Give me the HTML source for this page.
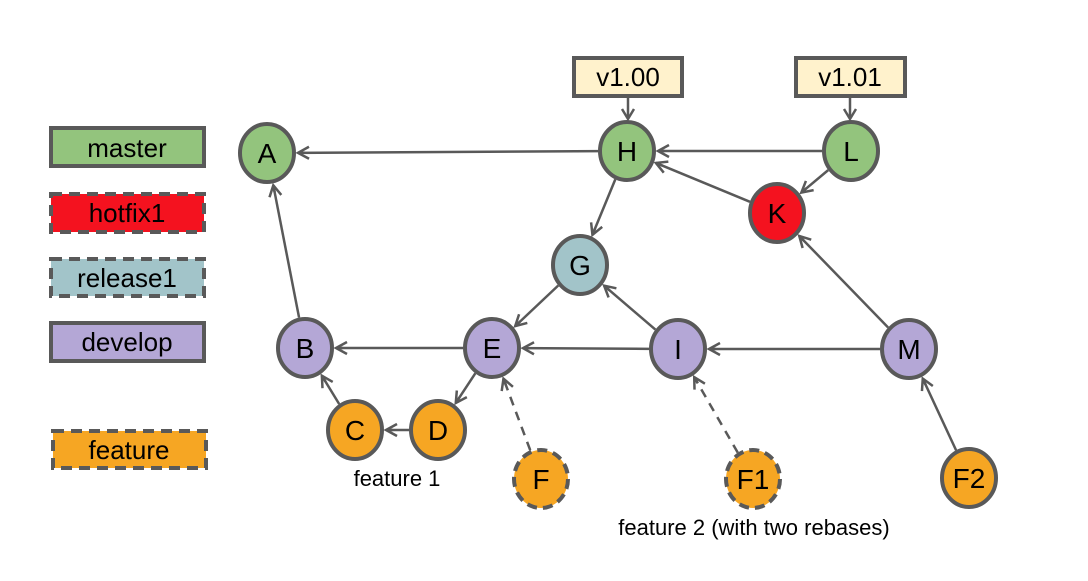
<!DOCTYPE html>
<html><head><meta charset="utf-8"><style>
html,body{margin:0;padding:0;background:#fff;width:1088px;height:581px;overflow:hidden}
text{font-family:"Liberation Sans",Arial,sans-serif;fill:#000}
</style></head><body>
<svg id="s" width="1088" height="581" viewBox="0 0 1088 581" xmlns="http://www.w3.org/2000/svg">
<g id="edges" stroke="#595959" stroke-width="2.5" fill="none"></g>
<g stroke="#595959" stroke-width="4">
<rect x="51" y="128" width="153" height="38" fill="#93c47d"/>
<rect x="51" y="194" width="153" height="38" fill="#f4121f" stroke-dasharray="11,7"/>
<rect x="51" y="259" width="153" height="37" fill="#a2c4c9" stroke-dasharray="11,7"/>
<rect x="51" y="323" width="153" height="38" fill="#b4a7d6"/>
<rect x="53" y="431" width="153" height="37" fill="#f6a623" stroke-dasharray="11,7"/>
<rect x="574" y="58" width="108" height="38" fill="#fff2cc"/>
<rect x="796" y="58" width="109" height="38" fill="#fff2cc"/>
</g>
<g font-size="26" text-anchor="middle">
<text x="127" y="157">master</text>
<text x="127" y="222">hotfix1</text>
<text x="127" y="287">release1</text>
<text x="127" y="351">develop</text>
<text x="129" y="459">feature</text>
<text x="628" y="86">v1.00</text>
<text x="850" y="86">v1.01</text>
</g>
<g id="nodes" stroke="#595959" stroke-width="4"></g>
<g font-size="22" text-anchor="middle">
<text x="397" y="486">feature 1</text>
<text x="754" y="535">feature 2 (with two rebases)</text>
</g>
</svg>
<script>
var N={A:[267,153,'#93c47d'],H:[627,151,'#93c47d'],L:[851,151,'#93c47d'],K:[777,213,'#f4121f'],
G:[580,265,'#a2c4c9'],B:[305,348,'#b4a7d6'],E:[492,348,'#b4a7d6'],I:[678,349,'#b4a7d6'],M:[909,349,'#b4a7d6'],
C:[355,430,'#f6a623'],D:[438,430,'#f6a623'],F:[541,479,'#f6a623',1],F1:[753,479,'#f6a623',1],F2:[969,478,'#f6a623']};
var ns="http://www.w3.org/2000/svg";
function el(t,a,p){var e=document.createElementNS(ns,t);for(var k in a)e.setAttribute(k,a[k]);p.appendChild(e);return e;}
var eg=document.getElementById('edges'),ng=document.getElementById('nodes'),s=document.getElementById('s');
var rx=27,ry=29;
function off(dx,dy){var a=Math.atan2(dy,dx);var c=Math.cos(a),si=Math.sin(a);return 1/Math.sqrt(c*c/(rx*rx)+si*si/(ry*ry));}
function edge(p,q,dash){var dx=q[0]-p[0],dy=q[1]-p[1],L=Math.sqrt(dx*dx+dy*dy),ux=dx/L,uy=dy/L;
var r=off(dx,dy)+2;var x1=p[0]+ux*r,y1=p[1]+uy*r,x2=q[0]-ux*(r+2),y2=q[1]-uy*(r+2);
var a={x1:x1,y1:y1,x2:x2,y2:y2};if(dash)a['stroke-dasharray']='9,7';el('line',a,eg);
var h=11,w=6,bx=x2-ux*h,by=y2-uy*h;
el('polyline',{points:(bx-uy*w)+','+(by+ux*w)+' '+x2+','+y2+' '+(bx+uy*w)+','+(by-ux*w)},eg);
el('line',{x1:x2-ux*7,y1:y2-uy*7,x2:x2,y2:y2},eg);}
var E=[['H','A'],['B','A'],['L','H'],['K','H'],['L','K'],['M','K'],['H','G'],['G','E'],['I','G'],['E','B'],['I','E'],['M','I'],['C','B'],['D','C'],['E','D'],['F','E',1],['F1','I',1],['F2','M']];
E.forEach(function(e){edge(N[e[0]],N[e[1]],e[2]);});
[[628,97,151],[850,97,151]].forEach(function(t){var y2=t[2]-ry-3;el('line',{x1:t[0],y1:t[1],x2:t[0],y2:y2},eg);
el('polyline',{points:(t[0]-6)+','+(y2-10)+' '+t[0]+','+y2+' '+(t[0]+6)+','+(y2-10)},eg);});
for(var k in N){var n=N[k];var a={cx:n[0],cy:n[1],rx:rx,ry:ry,fill:n[2]};if(n[3])a['stroke-dasharray']='10,6';el('ellipse',a,ng);
var t=el('text',{x:n[0],y:n[1]+10,'font-size':28,'text-anchor':'middle'},s);t.textContent=k;}
</script>
</body></html>
